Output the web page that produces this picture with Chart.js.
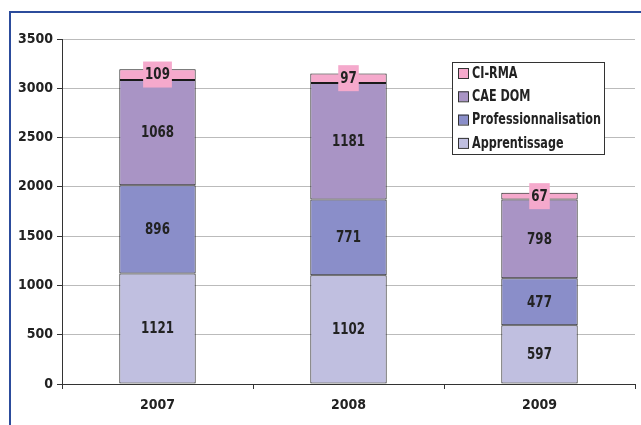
<!DOCTYPE html>
<html>
<head>
<meta charset="utf-8">
<script src="https://cdn.jsdelivr.net/npm/chart.js@4.4.0/dist/chart.umd.min.js"></script>
<style>
  html, body { margin: 0; padding: 0; background: #fff; }
  #wrap { width: 641px; height: 425px; position: relative; }
</style>
</head>
<body>
<div id="wrap"><canvas id="graficoBarras"></canvas></div>
<script>
// Datos
const annees = ['2007', '2008', '2009'];
const apprentissage = [1121, 1102, 597];
const professionnalisation = [896, 771, 477];
const caeDom = [1068, 1181, 798];
const ciRma = [109, 97, 67];
const ticksY = [0, 500, 1000, 1500, 2000, 2500, 3000, 3500];

const police = "'Liberation Sans Narrow', 'DejaVu Sans Condensed', 'Arial Narrow', sans-serif";
const serre = 0.88; // compression horizontale du texte

// cadre bleu + étiquettes + légende
const decor = {
    id: 'decor',
    afterDraw(chart) {
        const ctx = chart.ctx;
        ctx.save();
        // cadre
        ctx.strokeStyle = '#2c4c9c';
        ctx.lineWidth = 2;
        ctx.beginPath();
        ctx.moveTo(641, 12);
        ctx.lineTo(10, 12);
        ctx.lineTo(10, 425);
        ctx.stroke();

        // étiquettes des valeurs
        ctx.font = 'bold 15px ' + police;
        ctx.textAlign = 'center';
        ctx.textBaseline = 'middle';
        chart.data.datasets.forEach((ds, i) => {
            const meta = chart.getDatasetMeta(i);
            meta.data.forEach((bar, j) => {
                const y = (bar.y + bar.base) / 2;
                const txt = String(ds.data[j]);
                const tw = ctx.measureText(txt).width * serre;
                if (ds.label === 'CI-RMA') {
                    ctx.fillStyle = ds.backgroundColor;
                    ctx.fillRect(bar.x - tw / 2 - 2, y - 13, tw + 4, 26);
                }
                ctx.fillStyle = '#222';
                ctx.fillText(txt, bar.x, y + 1, tw);
            });
        });

        // légende
        const lx = 452, ly = 62, lw = 152, lh = 92;
        ctx.fillStyle = '#fff';
        ctx.fillRect(lx, ly, lw, lh);
        ctx.strokeStyle = '#333';
        ctx.lineWidth = 1;
        ctx.strokeRect(lx + 0.5, ly + 0.5, lw, lh);
        ctx.textAlign = 'left';
        const items = chart.data.datasets.slice().reverse();
        items.forEach((ds, k) => {
            const cy = 73 + k * 23.3;
            ctx.fillStyle = ds.backgroundColor;
            ctx.fillRect(458, cy - 5, 10, 10);
            ctx.strokeStyle = '#333';
            ctx.strokeRect(458.5, cy - 4.5, 10, 10);
            ctx.fillStyle = '#222';
            ctx.fillText(ds.label, 472, cy + 1, ctx.measureText(ds.label).width * 0.83);
        });
        ctx.restore();
    }
};

function serie(label, data, couleur) {
    return {
        label: label,
        data: data,
        backgroundColor: couleur,
        borderColor: '#1a1a1a',
        borderWidth: 1,
        borderSkipped: false,
        categoryPercentage: 1,
        barPercentage: 0.4
    };
}

const ctx = document.getElementById('graficoBarras').getContext('2d');

const grafico = new Chart(ctx, {
    type: 'bar',
    data: {
        labels: annees,
        datasets: [
            serie('Apprentissage', apprentissage, '#c0bfe0'),
            serie('Professionnalisation', professionnalisation, '#8a8ec9'),
            serie('CAE DOM', caeDom, '#a994c5'),
            serie('CI-RMA', ciRma, '#f5a9cc')
        ]
    },
    options: {
        responsive: true,
        maintainAspectRatio: false,
        animation: false,
        layout: { padding: { top: 39, right: 6, left: 0, bottom: 0 } },
        plugins: {
            legend: { display: false },
            tooltip: { enabled: false }
        },
        scales: {
            x: {
                stacked: true,
                afterFit(s) { s.height = 41; },
                grid: {
                    offset: true,
                    drawOnChartArea: false,
                    tickLength: 5,
                    tickColor: '#333'
                },
                border: { color: '#333', width: 1 },
                ticks: {
                    color: '#222',
                    padding: 8,
                    font: { family: police, size: 14, weight: 'bold' }
                }
            },
            y: {
                stacked: true,
                min: 0,
                max: 3500,
                afterFit(s) { s.width = 62; },
                afterBuildTicks(s) { s.ticks = ticksY.map(v => ({ value: v })); },
                grid: {
                    color: '#bbbbbb',
                    tickLength: 5,
                    tickColor: '#333'
                },
                border: { color: '#333', width: 1 },
                ticks: {
                    color: '#222',
                    padding: 4,
                    callback: v => String(v),
                    font: { family: police, size: 14, weight: 'bold' }
                }
            }
        }
    },
    plugins: [decor]
});
</script>
</body>
</html>
